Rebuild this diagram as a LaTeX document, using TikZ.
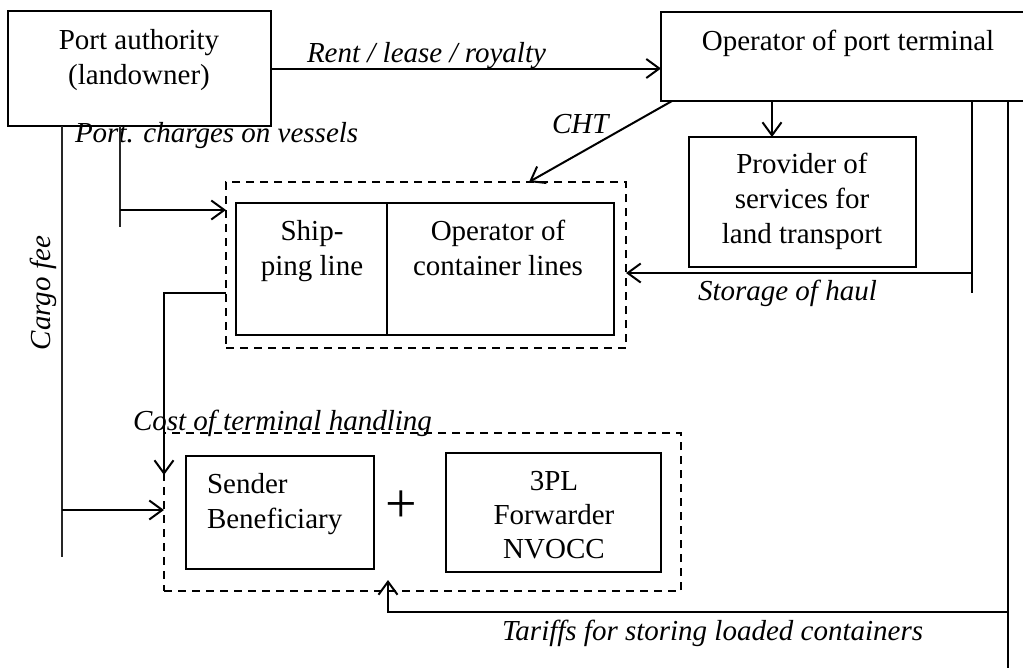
\documentclass[tikz,border=0pt]{standalone}
\usepackage{fontspec}
\setmainfont{Liberation Serif}
\usetikzlibrary{arrows.meta}
\begin{document}
\begin{tikzpicture}[x=1pt,y=-1pt,
  every node/.style={font=\fontsize{29}{35}\selectfont, inner sep=0pt, outer sep=0pt},
  box/.style={draw, line width=1.6pt, minimum width=#1, anchor=center},
  dbox/.style={draw, line width=1.9pt, dash pattern=on 8pt off 6pt},
  conn/.style={line width=2pt},
  arr/.style={conn, -{Straight Barb[length=13pt,width=19pt,line width=2pt]}},
  heavy/.style={line width=2.4pt, black!85},
  lbl/.style={font=\fontsize{29}{35}\selectfont\itshape, anchor=base west},
  txt/.style={align=center, anchor=base}
]
\useasboundingbox (0,0) rectangle (1023,667);

% boxes
\node[box=263pt, minimum height=115pt] (pa) at (139.5,68.5) {};
\node[box=365pt, minimum height=89pt] (op) at (843.5,56.5) {};
\node[box=227pt, minimum height=130pt] (prov) at (802.5,202) {};
\node[dbox, minimum width=400pt, minimum height=166pt] (db1) at (426,265) {};
\node[box=151pt, minimum height=132pt] (ship) at (311.5,269) {};
\node[box=227pt, minimum height=132pt] (ocl) at (500.5,269) {};
\node[dbox, minimum width=517pt, minimum height=158pt] (db2) at (422.5,512) {};
\node[box=188pt, minimum height=113pt] (snd) at (280,512.5) {};
\node[box=215pt, minimum height=119pt] (tpl) at (553.5,512.5) {};

% box texts (anchor base = baseline of the last line)
\node[txt] (pa-t) at (139,84) {Port authority\\(landowner)};
\node[txt] (op-t) at (848,50) {Operator of port terminal};
\node[txt] (prov-t) at (802,243) {Provider of\\services for\\land transport};
\node[txt] (ship-t) at (312,275) {Ship-\\ping line};
\node[txt] (ocl-t) at (498,275) {Operator of\\container lines};
\node[align=left, anchor=base west] (snd-t) at (207,528) {Sender\\Beneficiary};
\node[txt, font=\fontsize{29}{34}\selectfont] (tpl-t) at (554,558) {3PL\\Forwarder\\NVOCC};
\node[font=\fontsize{56}{60}\selectfont] (plus) at (401,507) {+};

% labels
\node[lbl] (rent) at (307,62) {Rent / lease / royalty};
\node[lbl] (cht) at (552,133) {CHT};
\node[lbl] (port) at (75,142) {Port. charges on vessels};
\node[lbl] (haul) at (698,300) {Storage of haul};
\node[lbl] (cost) at (133,430) {Cost of terminal handling};
\node[lbl] (tariff) at (502,640) {Tariffs for storing loaded containers};
\node[font=\fontsize{29}{35}\selectfont\itshape, rotate=90, anchor=base] (cargo) at (50,293) {Cargo fee};

% connectors
\draw[arr] (pa.east) -- (pa.east -| op.west);
\draw[arr] ([xshift=11pt]op.south west) -- ([xshift=103pt]db1.north);
\coordinate (c1) at ([xshift=-30.5pt]prov.north);
\draw[arr] (c1 |- op.south) -- (c1);

\coordinate (r1) at (972,293);
\draw[conn] (r1 |- op.south) -- (r1);
\coordinate (s1) at (972,273);
\draw[arr] (s1) -- (s1 -| db1.east);

\coordinate (r2) at (1008,672);
\draw[conn] (r2 |- op.south) -- (r2);
\coordinate (t1) at (1008,612);
\coordinate (t2) at ([xshift=-34.5pt,yshift=11pt]db2.south);
\draw[arr] (t1) -- (t1 -| t2) -- (t2);

\coordinate (p1) at (120,227);
\draw[heavy] (p1 |- pa.south) -- (p1);
\coordinate (p2) at (120,210);
\draw[arr] (p2) -- (p2 -| db1.west);

\coordinate (g1) at (62,557);
\draw[heavy] (g1 |- pa.south) -- (g1);
\coordinate (g2) at (62,510);
\draw[arr] (g2) -- (g2 -| db2.west);

\coordinate (k1) at ([yshift=-28pt]db1.west);
\draw[arr] (k1) -| ([yshift=-42pt]db2.north west);
\end{tikzpicture}
\end{document}
